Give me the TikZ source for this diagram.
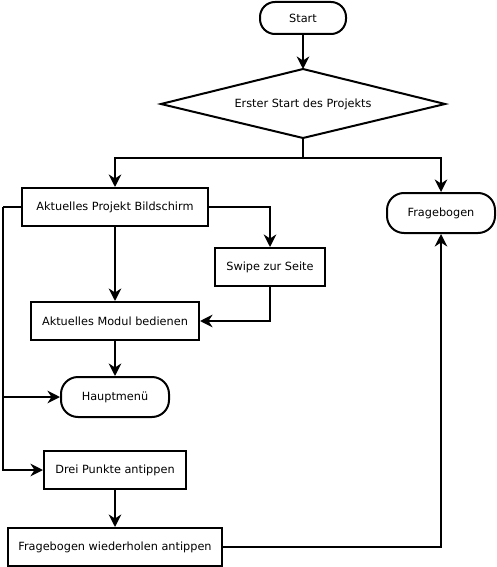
\documentclass[tikz,border=0pt]{standalone}
\usepackage{fontspec}
\setmainfont{DejaVu Sans}
\usetikzlibrary{arrows.meta}
\begin{document}
\begin{tikzpicture}[x=1pt,y=-1pt,
  every node/.style={font=\fontsize{11.3}{13}\selectfont, line width=2pt, draw, inner sep=0pt},
  box/.style={rectangle, minimum height=38pt},
  term/.style={rectangle, rounded corners=15pt, minimum height=32pt},
  arr/.style={line width=2pt, -{Stealth[length=12.5pt,width=12.5pt,inset=4pt]}},
  ln/.style={line width=2pt}]
\useasboundingbox (0,0) rectangle (496,567);
% nodes
\node[term, minimum width=86pt] (start) at (303,18) {Start};
\draw[ln, line join=miter] (161,104) -- (303,69) -- (445,104) -- (303,138) -- cycle;
\node[draw=none] (dec) at (303,104) {Erster Start des Projekts};
\coordinate (dectop) at (303,69);
\coordinate (decbot) at (303,138);
\node[box, minimum width=186pt] (apb) at (115,207) {Aktuelles Projekt Bildschirm};
\node[term, minimum width=108pt, minimum height=40pt, rounded corners=17pt] (frage) at (441,213) {Fragebogen};
\node[box, minimum width=110pt] (swipe) at (270,267) {Swipe zur Seite};
\node[box, minimum width=168pt] (amb) at (115,321) {Aktuelles Modul bedienen};
\node[term, minimum width=108pt, minimum height=40pt, rounded corners=17pt] (haupt) at (115,397) {Hauptmenü};
\node[box, minimum width=142pt] (dpa) at (115,470) {Drei Punkte antippen};
\node[box, minimum width=214pt] (fwa) at (115,547) {Fragebogen wiederholen antippen};
% connectors
\coordinate (split) at (303,158);
\coordinate (left) at (3,207);
\draw[arr] (start) -- (dectop);
\draw[ln] (decbot) -- (split);
\draw[arr] (split) -| (apb.north);
\draw[arr] (split) -| (frage.north);
\draw[arr] (apb.east) -| (swipe.north);
\draw[arr] (apb) -- (amb);
\draw[arr] (swipe.south) |- (amb.east);
\draw[arr] (amb) -- (haupt);
\draw[ln] (apb.west) -- (left);
\draw[arr] (left) |- (haupt.west);
\draw[arr] (left) |- (dpa.west);
\draw[arr] (dpa) -- (fwa);
\draw[arr] (fwa.east) -| (frage.south);
\end{tikzpicture}
\end{document}
